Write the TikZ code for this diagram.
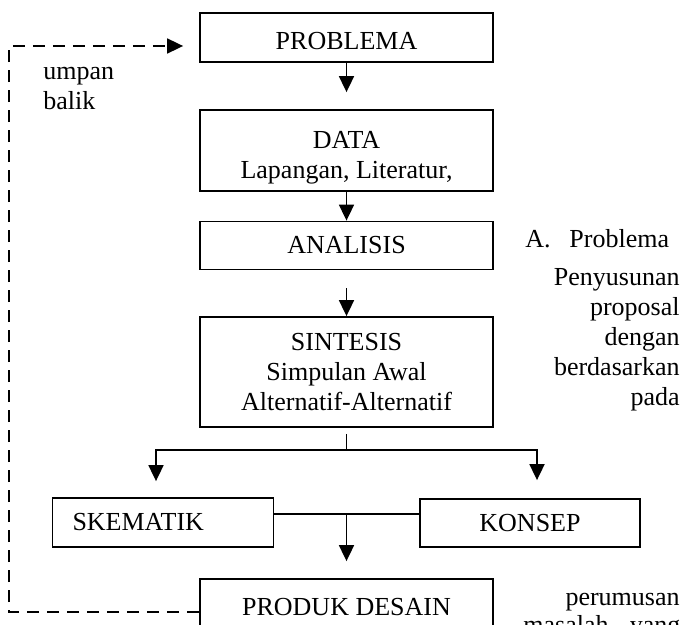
\documentclass[tikz,border=0pt]{standalone}
\usepackage{fontspec}
\setmainfont{Liberation Serif}
\usetikzlibrary{arrows.meta}

\begin{document}
\begin{tikzpicture}[x=0.5pt, y=-0.5pt, font=\fontsize{13}{15}\selectfont,
  >={Triangle[width=7.5pt,length=8pt]}]
\tikzstyle{box}=[rectangle,draw,line width=0.9pt,minimum width=146.5pt,inner sep=0pt,align=center]
\tikzstyle{flow}=[->,line width=0.9pt]
\tikzstyle{back}=[->,line width=0.9pt,dash pattern=on 6pt off 4pt]
\tikzstyle{side}=[inner sep=0pt]

\useasboundingbox (0,0) rectangle (684,625);
\clip (0,0) rectangle (684,625);

\node[box,minimum height=24.5pt] (problema) at (346.5,37.5) {\rule{0pt}{12pt}PROBLEMA};
\node[box,minimum height=40.5pt] (data) at (346.5,150.5) {\rule{0pt}{15.5pt}DATA\\Lapangan, Literatur,};
\node[box,minimum height=24pt] (analisis) at (346.5,245.5) {ANALISIS};
\node[box,minimum height=55pt] (sintesis) at (346.5,372) {SINTESIS\\Simpulan Awal\\Alternatif-Alternatif};
\node[box,minimum width=110.5pt,text width=90.5pt,inner xsep=10pt,align=left,minimum height=24.5pt]
  (skematik) at (163,522.5) {SKEMATIK};
\node[box,minimum width=110pt,minimum height=24pt] (konsep) at (530,523) {KONSEP};
\node[box,minimum height=28pt] (produk) at (346.5,607) {PRODUK DESAIN};

\draw[flow,shorten >=8.5pt] (problema) -- (data);
\draw[flow] (data) -- (analisis);
\draw[flow,shorten <=9pt] (analisis) -- (sintesis);

\coordinate (split) at (346.5,450);
\draw[line width=0.9pt] ([yshift=-3pt]sintesis.south) -- (split);
\draw[flow] (split) -| ([xshift=-3.5pt,yshift=8pt]skematik.north);
\draw[flow] (split) -| ([xshift=3.5pt,yshift=9pt]konsep.north);

\coordinate (join) at (346.5,514);
\draw[line width=0.9pt] (skematik.east |- join) -- (konsep.west |- join);
\draw[flow,shorten >=8.5pt] (join) -- (produk);

% umpan balik
\coordinate (loopbot) at (9,612);
\coordinate (looptop) at (9,46);
\draw[back] (produk.west |- loopbot) -- (loopbot) -- (looptop) -- ([xshift=-8pt]problema.west |- looptop);
\node[side,anchor=base west] (umpan) at (43,80) {umpan};
\node[side,anchor=base west] (balik) at (43,110) {balik};

% teks samping
\node[side,anchor=base west] (hurufA) at (525,248) {A.};
\node[side,anchor=base west] (judulA) at (569,248) {Problema};
\node[side,anchor=north east,align=right] (penyusunan) at (680,268)
  {Penyusunan\\proposal\\dengan\\berdasarkan\\pada};
\node[side,anchor=base east] (perumusan) at (680,605) {perumusan};
\node[side,anchor=base west,text width=78.5pt] (masalah) at (523,633) {masalah\hfill yang};

\end{tikzpicture}
\end{document}
